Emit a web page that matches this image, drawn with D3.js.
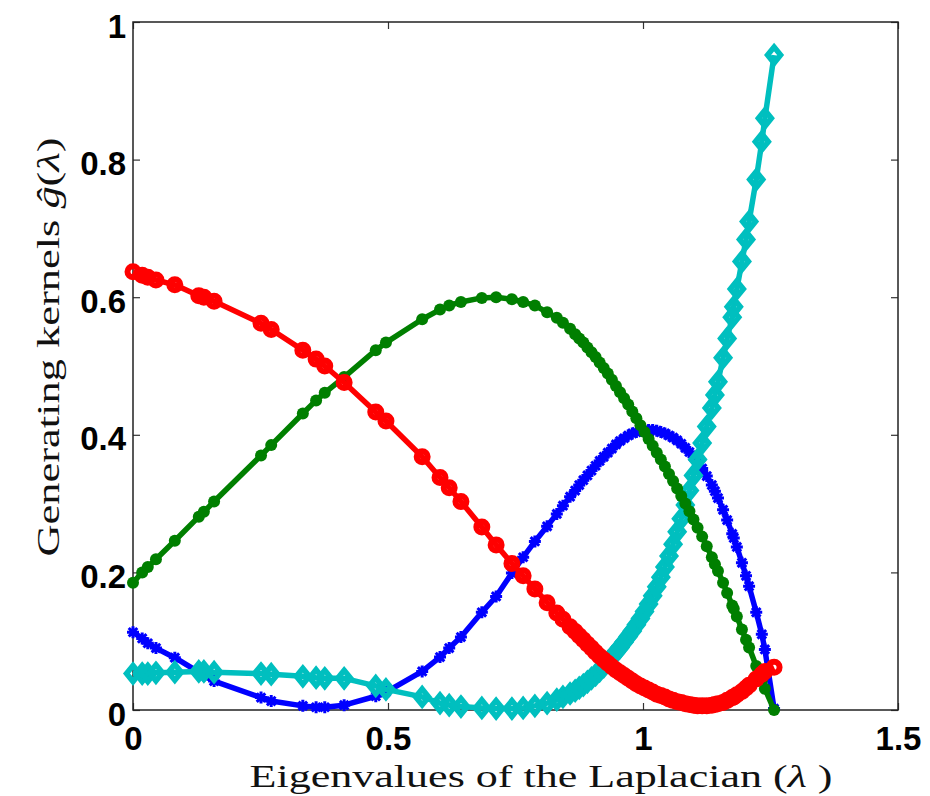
<!DOCTYPE html>
<html>
<head>
<meta charset="utf-8">
<script src="https://cdn.jsdelivr.net/npm/d3@7"></script>
<style>
  body { margin: 0; background: #fff; }
  svg { display: block; }
  .tick text { font-family: "Liberation Sans", Arial, sans-serif; font-weight: bold; font-size: 33px; fill: #000; }
  .tick line { stroke: #333; stroke-width: 1.2; }
  .axis-label { font-family: "Liberation Serif", "DejaVu Serif", serif; font-size: 31px; fill: #111; }
</style>
</head>
<body>
<div id="chart"></div>
<script>
// eigenvalues of the Laplacian (shared x for all kernels)
const lambdas = [0, 0.018, 0.029, 0.045, 0.082, 0.129, 0.139, 0.159, 0.251, 0.271,
  0.333, 0.359, 0.376, 0.414, 0.476, 0.496, 0.567, 0.602, 0.620, 0.643,
  0.684, 0.712, 0.743, 0.765, 0.788, 0.812, 0.831, 0.843, 0.857, 0.867,
  0.875, 0.883, 0.891, 0.899, 0.907, 0.915, 0.923, 0.931, 0.939, 0.947,
  0.955, 0.963, 0.971, 0.979, 0.987, 0.995, 1.003, 1.011, 1.019, 1.027,
  1.035, 1.043, 1.051, 1.059, 1.067, 1.075, 1.083, 1.091, 1.099, 1.107,
  1.116, 1.125, 1.135, 1.141, 1.147, 1.157, 1.165, 1.175, 1.178, 1.184,
  1.194, 1.202, 1.208, 1.222, 1.233, 1.239, 1.257];

const kernelBlue = [0.113, 0.104, 0.097, 0.090, 0.076, 0.055, 0.050, 0.042, 0.018, 0.013,
  0.006, 0.004, 0.004, 0.007, 0.020, 0.026, 0.056, 0.077, 0.090, 0.106,
  0.142, 0.165, 0.199, 0.222, 0.245, 0.267, 0.285, 0.297, 0.310, 0.319,
  0.327, 0.334, 0.341, 0.348, 0.355, 0.362, 0.368, 0.374, 0.380, 0.386,
  0.391, 0.395, 0.399, 0.402, 0.404, 0.406, 0.407, 0.407, 0.407, 0.406,
  0.404, 0.402, 0.399, 0.396, 0.392, 0.387, 0.381, 0.375, 0.368, 0.360,
  0.351, 0.340, 0.327, 0.318, 0.308, 0.291, 0.276, 0.256, 0.250, 0.237,
  0.214, 0.195, 0.180, 0.142, 0.110, 0.088, 0.002];

const kernelGreen = [0.185, 0.200, 0.208, 0.219, 0.246, 0.281, 0.288, 0.303, 0.370, 0.385,
  0.431, 0.450, 0.461, 0.484, 0.523, 0.534, 0.568, 0.582, 0.588, 0.593,
  0.599, 0.600, 0.597, 0.593, 0.588, 0.578, 0.570, 0.563, 0.554, 0.546,
  0.540, 0.534, 0.527, 0.520, 0.513, 0.505, 0.497, 0.489, 0.480, 0.471,
  0.462, 0.453, 0.444, 0.434, 0.424, 0.414, 0.404, 0.394, 0.384, 0.374,
  0.364, 0.354, 0.343, 0.333, 0.322, 0.311, 0.300, 0.289, 0.277, 0.265,
  0.252, 0.238, 0.222, 0.212, 0.202, 0.185, 0.170, 0.152, 0.147, 0.136,
  0.117, 0.102, 0.091, 0.064, 0.043, 0.031, 0.000];

const kernelRed = [0.637, 0.632, 0.629, 0.625, 0.618, 0.602, 0.600, 0.594, 0.562, 0.553,
  0.523, 0.510, 0.500, 0.476, 0.433, 0.420, 0.368, 0.338, 0.323, 0.303,
  0.266, 0.240, 0.213, 0.195, 0.176, 0.156, 0.141, 0.132, 0.121, 0.114,
  0.108, 0.102, 0.096, 0.090, 0.084, 0.078, 0.073, 0.068, 0.063, 0.058,
  0.054, 0.050, 0.046, 0.042, 0.038, 0.035, 0.032, 0.029, 0.026, 0.023,
  0.021, 0.019, 0.016, 0.014, 0.012, 0.011, 0.009, 0.008, 0.007, 0.006,
  0.006, 0.006, 0.007, 0.008, 0.009, 0.011, 0.014, 0.018, 0.019, 0.022,
  0.027, 0.032, 0.036, 0.045, 0.052, 0.056, 0.062];

const kernelCyan = [0.053, 0.053, 0.053, 0.054, 0.055, 0.056, 0.056, 0.055, 0.053, 0.052,
  0.049, 0.047, 0.046, 0.046, 0.035, 0.030, 0.019, 0.010, 0.007, 0.005,
  0.003, 0.002, 0.002, 0.003, 0.006, 0.010, 0.015, 0.019, 0.024, 0.028,
  0.032, 0.036, 0.041, 0.046, 0.051, 0.057, 0.063, 0.070, 0.077, 0.084,
  0.091, 0.099, 0.107, 0.115, 0.124, 0.133, 0.143, 0.154, 0.166, 0.179,
  0.193, 0.208, 0.224, 0.241, 0.259, 0.278, 0.298, 0.319, 0.341, 0.364,
  0.388, 0.412, 0.439, 0.458, 0.477, 0.512, 0.540, 0.571, 0.586, 0.612,
  0.652, 0.684, 0.710, 0.771, 0.826, 0.860, 0.952];

const xTicks = [0, 0.5, 1, 1.5];
const yTicks = [0, 0.2, 0.4, 0.6, 0.8, 1];

const width = 930, height = 796;
const plot = {left: 133, right: 898, top: 22, bottom: 710};

const svg = d3.select("#chart").append("svg")
  .attr("width", width)
  .attr("height", height);

const x = d3.scaleLinear().domain([0, 1.5]).range([plot.left, plot.right]);
const y = d3.scaleLinear().domain([0, 1]).range([plot.bottom, plot.top]);

// axes: ticks pointing inwards on all four sides
const fmt = d => String(d);
svg.append("g")
  .attr("transform", `translate(0,${plot.bottom})`)
  .call(d3.axisBottom(x).tickValues(xTicks).tickSize(-7).tickPadding(17).tickFormat(fmt))
  .call(g => g.select(".domain").remove());
svg.append("g")
  .attr("transform", `translate(0,${plot.top})`)
  .call(d3.axisTop(x).tickValues(xTicks).tickSize(-7).tickFormat(""))
  .call(g => g.select(".domain").remove());
svg.append("g")
  .attr("transform", `translate(${plot.left},0)`)
  .call(d3.axisLeft(y).tickValues(yTicks).tickSize(-7).tickPadding(7).tickFormat(fmt))
  .call(g => g.select(".domain").remove())
  .call(g => g.selectAll("text").attr("dy", "0.46em"));
svg.append("g")
  .attr("transform", `translate(${plot.right},0)`)
  .call(d3.axisRight(y).tickValues(yTicks).tickSize(-7).tickFormat(""))
  .call(g => g.select(".domain").remove());

svg.selectAll(".tick text").attr("fill", "#000");

svg.append("rect")
  .attr("x", plot.left).attr("y", plot.top)
  .attr("width", plot.right - plot.left)
  .attr("height", plot.bottom - plot.top)
  .attr("fill", "none")
  .attr("stroke", "#222")
  .attr("stroke-width", 1.5);

// markers
const starPath = "M-6,0L6,0M0,-6L0,6M-4.3,-4.3L4.3,4.3M-4.3,4.3L4.3,-4.3";
const diamondPath = "M0,-8L6.5,0L0,8L-6.5,0Z";

const series = [
  {values: kernelBlue, color: "#0000ff", marker: "star"},
  {values: kernelCyan, color: "#00bfbf", marker: "diamond"},
  {values: kernelGreen, color: "#007f00", marker: "dot"},
  {values: kernelRed, color: "#ff0000", marker: "circle"}
];

const line = d3.line().x(d => x(d[0])).y(d => y(d[1]));

series.forEach(s => {
  const pts = lambdas.map((l, i) => [l, s.values[i]]);
  const g = svg.append("g");
  g.append("path")
    .datum(pts)
    .attr("d", line)
    .attr("fill", "none")
    .attr("stroke", s.color)
    .attr("stroke-width", 5.5)
    .attr("stroke-linejoin", "round");

  const m = g.selectAll(".m").data(pts).enter();
  if (s.marker === "star") {
    m.append("path")
      .attr("d", starPath)
      .attr("transform", d => `translate(${x(d[0])},${y(d[1])})`)
      .attr("stroke", s.color).attr("stroke-width", 3).attr("fill", "none");
  } else if (s.marker === "diamond") {
    m.append("path")
      .attr("d", diamondPath)
      .attr("transform", d => `translate(${x(d[0])},${y(d[1])})`)
      .attr("stroke", s.color).attr("stroke-width", 5.5).attr("fill", "none")
      .attr("stroke-linejoin", "miter");
  } else if (s.marker === "dot") {
    m.append("circle")
      .attr("cx", d => x(d[0])).attr("cy", d => y(d[1]))
      .attr("r", 6).attr("fill", s.color);
  } else {
    m.append("circle")
      .attr("cx", d => x(d[0])).attr("cy", d => y(d[1]))
      .attr("r", 5.5).attr("fill", "none")
      .attr("stroke", s.color).attr("stroke-width", 6);
  }
});

// axis titles
const xl = svg.append("text")
  .attr("class", "axis-label")
  .attr("x", 541).attr("y", 787)
  .attr("text-anchor", "middle")
  .attr("textLength", 583).attr("lengthAdjust", "spacingAndGlyphs");
xl.append("tspan").text("Eigenvalues of the Laplacian (");
xl.append("tspan").attr("font-style", "italic").text("λ");
xl.append("tspan").text(" )");

const yl = svg.append("text")
  .attr("class", "axis-label")
  .attr("transform", "translate(59,347) rotate(-90)")
  .attr("text-anchor", "middle")
  .attr("textLength", 419).attr("lengthAdjust", "spacingAndGlyphs");
yl.append("tspan").text("Generating kernels ");
yl.append("tspan").attr("font-style", "italic").text("ĝ");
yl.append("tspan").text("(");
yl.append("tspan").attr("font-style", "italic").text("λ");
yl.append("tspan").text(")");
</script>
</body>
</html>
